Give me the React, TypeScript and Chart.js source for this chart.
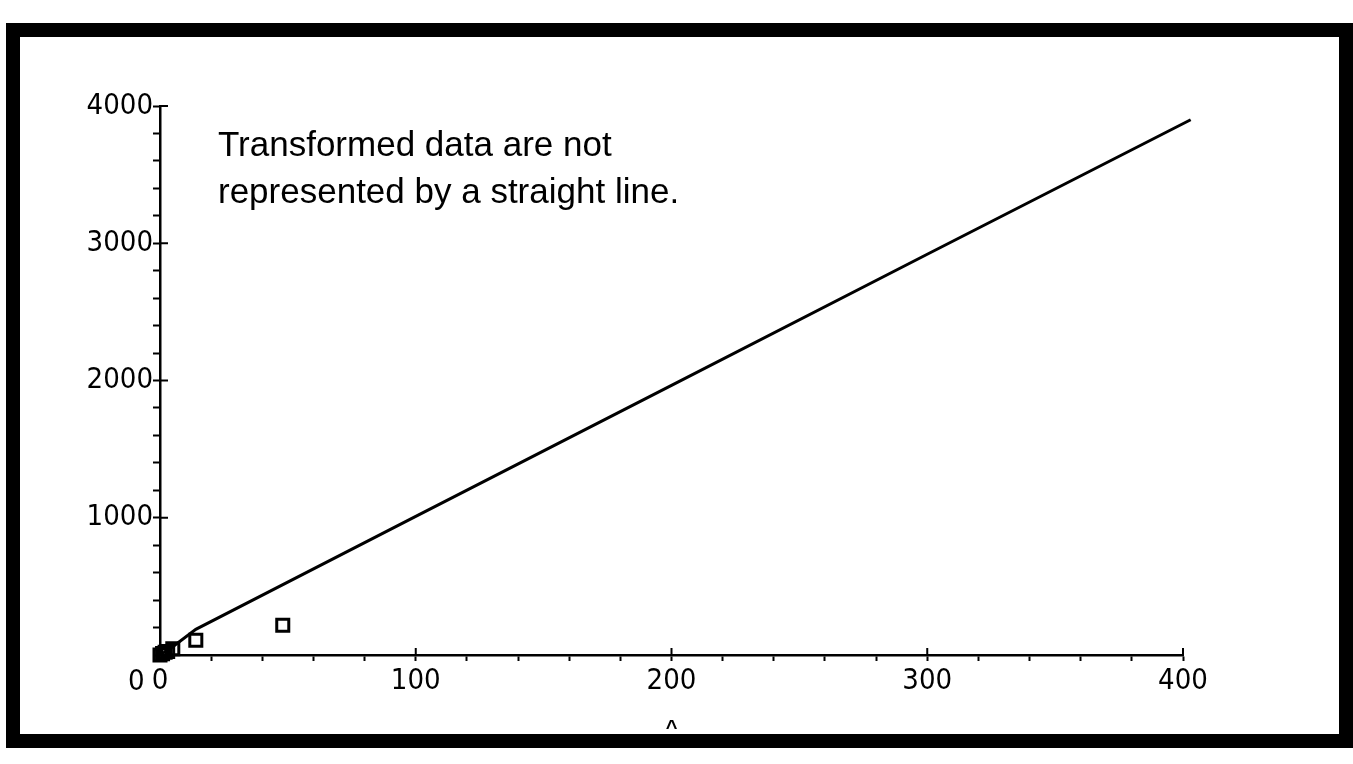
import React, { useEffect, useRef } from 'react';
import { Chart, registerables } from 'chart.js';

Chart.register(...registerables);

// Fitted curve
const lineX = [0, 5, 14, 100, 200, 300, 403];
const lineY = [0, 60, 187, 1010, 1965, 2920, 3900];

// Measured points (open squares)
const pointX = [0, 1, 2, 3, 5, 14, 48, 406];
const pointY = [0, 10, 20, 25, 45, 108, 216, 3940];

const xMajorTicks = [100, 200, 300, 400];
const yMajorTicks = [1000, 2000, 3000, 4000];

const noteLines = ['Transformed data are not', 'represented by a straight line.'];
const caretText = '^';

const FONT = "'Liberation Sans', Arial, sans-serif";
const TICK_FONT = "'Liberation Sans Narrow', 'DejaVu Sans Condensed', 'Liberation Sans', sans-serif";

export default function App() {
  const ref = useRef<HTMLCanvasElement>(null);

  useEffect(() => {
    const canvas = ref.current;
    if (!canvas) return;

    const framePlugin = {
      id: 'frame',
      beforeDraw(chart: any) {
        const c = chart.ctx;
        c.save();
        c.fillStyle = '#ffffff';
        c.fillRect(0, 0, chart.width, chart.height);
        c.strokeStyle = '#000';
        c.lineWidth = 14;
        c.strokeRect(13, 30, 1333, 711);
        c.restore();
      },
      afterDraw(chart: any) {
        const c = chart.ctx;
        const xs = chart.scales.x;
        const ys = chart.scales.y;
        c.save();
        c.strokeStyle = '#000';
        c.lineWidth = 2;
        // major ticks crossing the axes
        yMajorTicks.forEach((v) => {
          const py = ys.getPixelForValue(v);
          c.beginPath();
          c.moveTo(xs.left, py);
          c.lineTo(xs.left + 8, py);
          c.stroke();
        });
        xMajorTicks.forEach((v) => {
          const px = xs.getPixelForValue(v);
          c.beginPath();
          c.moveTo(px, ys.bottom);
          c.lineTo(px, ys.bottom - 7);
          c.stroke();
        });
        // annotation text
        c.fillStyle = '#000';
        c.font = `35px ${FONT}`;
        c.textAlign = 'left';
        c.textBaseline = 'alphabetic';
        c.fillText(noteLines[0], 218, 156);
        c.fillText(noteLines[1], 218, 203);
        c.font = `bold 20px ${FONT}`;
        c.textAlign = 'center';
        c.fillText(caretText, xs.getPixelForValue(200), 734);
        c.restore();
      },
    };

    const chart = new Chart(canvas, {
      type: 'scatter',
      data: {
        datasets: [
          {
            type: 'line',
            data: lineX.map((x, i) => ({ x, y: lineY[i] })),
            borderColor: '#000',
            borderWidth: 3,
            pointRadius: 0,
            tension: 0,
            fill: false,
            clip: false as any,
          },
          {
            type: 'scatter',
            data: pointX.map((x, i) => ({ x, y: pointY[i] })),
            pointStyle: 'rect',
            pointRadius: 8.5,
            borderWidth: 3,
            borderColor: '#000',
            backgroundColor: 'rgba(0,0,0,0)',
            clip: false as any,
          },
        ],
      },
      options: {
        responsive: false,
        animation: false,
        events: [],
        layout: { padding: { left: 0, right: 170, top: 106, bottom: 59 } },
        plugins: { legend: { display: false }, tooltip: { enabled: false } },
        scales: {
          x: {
            type: 'linear',
            min: 0,
            max: 400,
            position: 'bottom',
            afterFit: (s: any) => {
              s.height = 50;
            },
            border: { display: true, color: '#000', width: 2.5 },
            grid: {
              drawOnChartArea: false,
              drawTicks: true,
              tickLength: 6,
              tickColor: '#000',
              tickWidth: 2,
            },
            ticks: {
              stepSize: 20,
              autoSkip: false,
              maxRotation: 0,
              padding: 3,
              color: '#000',
              font: { family: TICK_FONT, size: 29 },
              callback: (v: any) => (Number(v) % 100 === 0 ? String(v) : ''),
            },
          },
          y: {
            type: 'linear',
            min: 0,
            max: 4000,
            afterFit: (s: any) => {
              s.width = 160;
            },
            border: { display: true, color: '#000', width: 2.5 },
            grid: {
              drawOnChartArea: false,
              drawTicks: true,
              tickLength: 7,
              tickColor: '#000',
              tickWidth: 2,
            },
            ticks: {
              stepSize: 200,
              autoSkip: false,
              padding: 0,
              color: '#000',
              font: { family: TICK_FONT, size: 29, lineHeight: 1.9 },
              callback: (v: any) => {
                const n = Number(v);
                if (n === 0) return ['', '0 '];
                return n % 1000 === 0 ? String(n) : '';
              },
            },
          },
        },
      },
      plugins: [framePlugin],
    });

    return () => chart.destroy();
  }, []);

  return (
    <div style={{ position: 'absolute', left: 0, top: 0, width: 1353, height: 764 }}>
      <canvas ref={ref} width={1353} height={764} style={{ display: 'block' }} />
    </div>
  );
}
